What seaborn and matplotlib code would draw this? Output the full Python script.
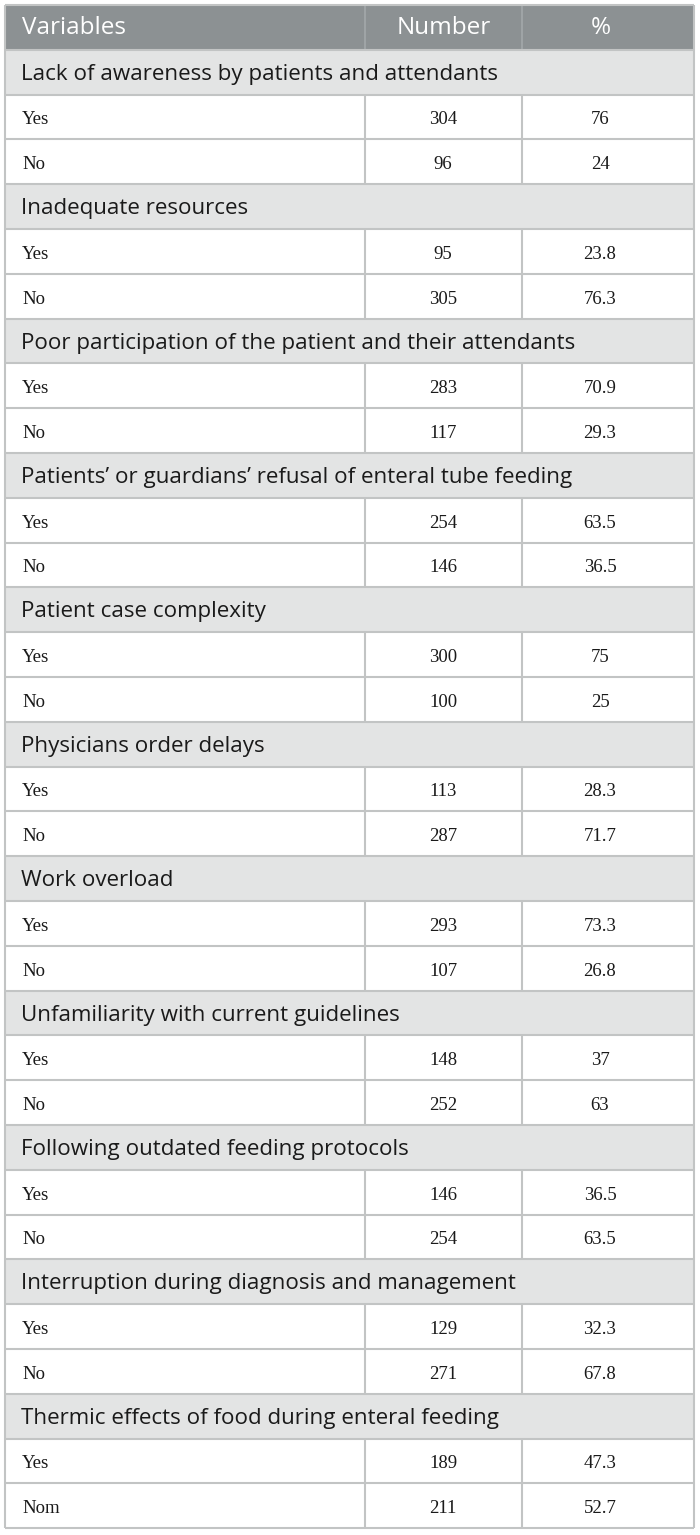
import matplotlib
matplotlib.use("Agg")
import matplotlib.pyplot as plt
import seaborn as sns

# ---- data ----
categories = [
    "Lack of awareness by patients and attendants",
    "Inadequate resources",
    "Poor participation of the patient and their attendants",
    "Patients’ or guardians’ refusal of enteral tube feeding",
    "Patient case complexity",
    "Physicians order delays",
    "Work overload",
    "Unfamiliarity with current guidelines",
    "Following outdated feeding protocols",
    "Interruption during diagnosis and management",
    "Thermic effects of food during enteral feeding",
]
yes_labels = ["Yes"] * 11
no_labels = ["No"] * 10 + ["Nom"]
yes_number = [304, 95, 283, 254, 300, 113, 293, 148, 146, 129, 189]
yes_pct = ["76", "23.8", "70.9", "63.5", "75", "28.3", "73.3", "37", "36.5", "32.3", "47.3"]
no_number = [96, 305, 117, 146, 100, 287, 107, 252, 254, 271, 211]
no_pct = ["24", "76.3", "29.3", "36.5", "25", "71.7", "26.8", "63", "63.5", "67.8", "52.7"]
header = ["Variables", "Number", "%"]

# ---- style ----
sns.set_theme(style="white")
SANS = ["Open Sans", "DejaVu Sans"]
SERIF = ["Liberation Serif", "DejaVu Serif"]
HEAD_BG = "#8c9193"
CAT_BG = "#e3e4e4"
LINE = "#c2c4c4"
TXT = "#1a1a1a"

W, H = 700, 1535
fig = plt.figure(figsize=(W / 100, H / 100), dpi=100)
ax = fig.add_axes([0, 0, 1, 1])
ax.set_xlim(0, W)
ax.set_ylim(H, 0)
ax.axis("off")

x0, x1, x2, x3 = 4.5, 365, 522, 694
top = 5.0
rh = 44.8

# build rows
rows = [("head", header)]
for i, c in enumerate(categories):
    rows.append(("cat", [c]))
    rows.append(("data", [yes_labels[i], str(yes_number[i]), yes_pct[i]]))
    rows.append(("data", [no_labels[i], str(no_number[i]), no_pct[i]]))

fs_head = 17.5
fs_cat = 16.1
fs_serif = 13.5
for r, (kind, vals) in enumerate(rows):
    yc = top + rh * (r + 0.5)
    if kind == "head":
        ax.barh(yc, x3 - x0, left=x0, height=rh, color=HEAD_BG, linewidth=0)
        ax.vlines([x1, x2], yc - rh / 2, yc + rh / 2, color="#a4a8aa", lw=1.2)
        ax.text(x0 + 17.5, yc + 1, vals[0], color="white", fontsize=fs_head, family=SANS,
                va="center", ha="left")
        ax.text((x1 + x2) / 2, yc + 1, vals[1], color="white", fontsize=fs_head, family=SANS,
                va="center", ha="center")
        ax.text(601, yc + 1, vals[2], color="white", fontsize=fs_head, family=SANS,
                va="center", ha="center")
    elif kind == "cat":
        ax.barh(yc, x3 - x0, left=x0, height=rh, color=CAT_BG, linewidth=0)
        ax.text(x0 + 16.5, yc + 2, vals[0], color=TXT, fontsize=fs_cat, family=SANS,
                va="center", ha="left")
    else:
        ax.barh(yc, x3 - x0, left=x0, height=rh, color="white", linewidth=0)
        ax.vlines([x1, x2], yc - rh / 2, yc + rh / 2, color=LINE, lw=1.5)
        ax.text(x0 + 17.5, yc + 3, vals[0], color=TXT, fontsize=fs_serif, family=SERIF,
                va="center", ha="left")
        ax.text(443, yc + 3, vals[1], color=TXT, fontsize=fs_serif, family=SERIF,
                va="center", ha="center")
        ax.text(600, yc + 3, vals[2], color=TXT, fontsize=fs_serif, family=SERIF,
                va="center", ha="center")

# horizontal lines between rows
n = len(rows)
ys = [top + rh * k for k in range(1, n)]
ax.hlines(ys, x0, x3, color=LINE, lw=1.5)
# outer border
ax.hlines([top, top + rh * n], x0, x3, color=LINE, lw=1.5)
ax.vlines([x0, x3], top, top + rh * n, color=LINE, lw=1.5)

fig.savefig("out.png", dpi=100)
